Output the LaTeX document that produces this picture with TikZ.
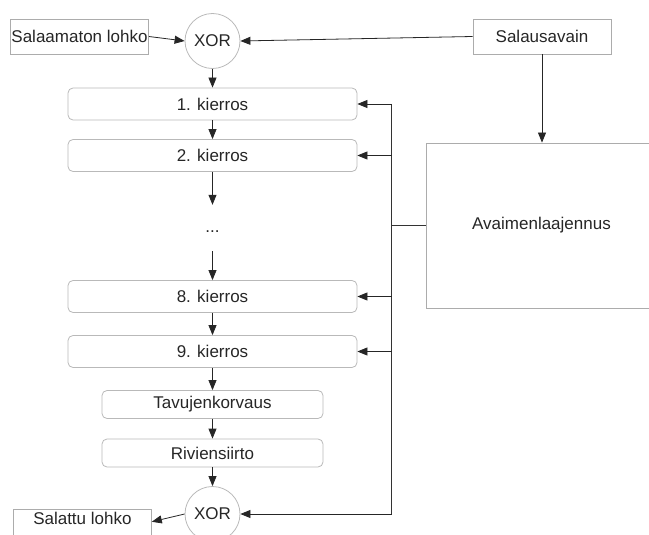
\documentclass[tikz,border=0pt]{standalone}
\usepackage{fontspec}
\setmainfont{Liberation Sans}
\usetikzlibrary{arrows.meta}
\begin{document}
\begin{tikzpicture}[x=1pt,y=-1pt,
  every node/.style={font=\fontsize{17}{20}\selectfont, text=black!85, inner sep=0pt},
  roundbox/.style={draw=gray!55, line width=0.8pt, rounded corners=5pt, minimum width=289pt, minimum height=32pt},
  narrowbox/.style={roundbox, minimum width=221pt, minimum height=28pt},
  plainbox/.style={draw=gray!65, line width=0.8pt, minimum width=138pt, minimum height=35pt},
  xorgate/.style={circle, draw=gray!55, line width=0.8pt, minimum size=55pt},
  arr/.style={-{Triangle[length=10pt,width=8pt]}, line width=0.8pt, draw=black!85},
  link/.style={line width=0.8pt, draw=black!80}]
\useasboundingbox (0,0) rectangle (649,535);

% inputs and first key addition
\node[plainbox] (plain) at (79.5,36.5) {Salaamaton lohko};
\node[xorgate] (xor1) at (212.5,41) {XOR};
\node[plainbox] (key) at (542,36.5) {Salausavain};
\node[draw=gray!65, line width=0.8pt, minimum width=231pt, minimum height=165pt] (exp) at (541.5,225.5) {Avaimenlaajennus};

% rounds
\node[roundbox] (r1) at (212.5,104) {1. kierros};
\node[roundbox] (r2) at (212.5,155.5) {2. kierros};
\node[minimum height=46pt, text height=8pt, text depth=0pt] (dots) at (212.5,228) {...};
\node[roundbox] (r8) at (212.5,296.5) {8. kierros};
\node[roundbox] (r9) at (212.5,351.5) {9. kierros};
\node[narrowbox] (sub) at (212.5,404.5) {Tavujenkorvaus};
\node[narrowbox] (shift) at (212.5,453) {Riviensiirto};
\node[xorgate] (xor2) at (212.5,514) {XOR};
\node[draw=gray!65, line width=0.8pt, minimum width=138pt, text height=15pt, text depth=21pt, anchor=north west] (out) at (13,509) {Salattu lohko};

% main data path
\draw[arr] (plain.east) -- (xor1.west);
\draw[arr] (key.west) -- (xor1.east);
\draw[arr] (key.south) -- (key.south |- exp.north);
\draw[arr] (xor1.south) -- (r1.north);
\draw[arr] (r1.south) -- (r2.north);
\draw[arr] (r2.south) -- (dots.north);
\draw[arr] (dots.south) -- (r8.north);
\draw[arr] (r8.south) -- (r9.north);
\draw[arr] (r9.south) -- (sub.north);
\draw[arr] (sub.south) -- (shift.north);
\draw[arr] (shift.south) -- (xor2.north);
\draw[arr] (xor2.west) -- (out.mid east);

% round key bus
\coordinate (bt) at (391.7,104);
\coordinate (bb) at (391.7,514);
\draw[link] (bt) -- (bb);
\draw[link] (exp.west) -- (exp.west -| bt);
\draw[arr] (bt) -- (r1.east);
\draw[arr] (r2.east -| bt) -- (r2.east);
\draw[arr] (r8.east -| bt) -- (r8.east);
\draw[arr] (r9.east -| bt) -- (r9.east);
\draw[arr] (bb) -- (xor2.east);
\end{tikzpicture}
\end{document}
